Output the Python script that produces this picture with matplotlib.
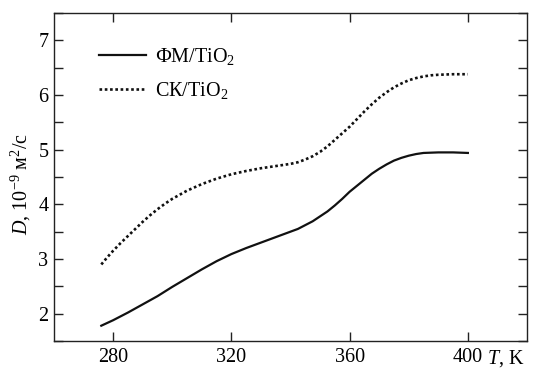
import numpy as np
import matplotlib
matplotlib.use("Agg")
from matplotlib import pyplot as plt

# temperatures, K and D, 10^-9 m^2/s
t_fm = [276, 280, 285, 290, 295, 300, 305, 310, 315, 320, 325, 330, 335,
        340, 342.5, 345, 347.5, 350, 352.5, 355, 357.5, 360, 362.5, 365,
        367.5, 370, 372.5, 375, 377.5, 380, 382.5, 385, 390, 395, 400]
d_fm = [1.78, 1.88, 2.02, 2.17, 2.32, 2.49, 2.65, 2.81, 2.96, 3.09, 3.20,
        3.30, 3.40, 3.50, 3.55, 3.62, 3.69, 3.78, 3.87, 3.98, 4.10, 4.23,
        4.34, 4.45, 4.56, 4.65, 4.73, 4.80, 4.85, 4.89, 4.92, 4.94, 4.95,
        4.95, 4.94]
t_sk = [276, 278, 280, 282.5, 285, 287.5, 290, 292.5, 295, 297.5, 300, 305,
        310, 315, 320, 325, 330, 335, 340, 342.5, 345, 347.5, 350, 352.5,
        355, 357.5, 360, 362.5, 365, 367.5, 370, 372.5, 375, 377.5, 380,
        382.5, 385, 387.5, 390, 395, 400]
d_sk = [2.90, 3.03, 3.15, 3.29, 3.42, 3.55, 3.68, 3.80, 3.91, 4.01, 4.10,
        4.25, 4.37, 4.47, 4.55, 4.61, 4.66, 4.70, 4.74, 4.77, 4.82, 4.88,
        4.96, 5.06, 5.18, 5.30, 5.42, 5.56, 5.70, 5.83, 5.95, 6.05, 6.14,
        6.21, 6.27, 6.31, 6.34, 6.36, 6.37, 6.38, 6.38]
labels = ["ФМ/TiO$_2$", "СК/TiO$_2$"]
x_ticks = [280, 320, 360, 400]
y_ticks = [2, 3, 4, 5, 6, 7]

plt.rcParams["font.family"] = ["Liberation Serif", "DejaVu Serif"]
plt.rcParams["mathtext.fontset"] = "custom"
plt.rcParams["mathtext.rm"] = "Liberation Serif"
plt.rcParams["mathtext.it"] = "Liberation Serif:italic"
plt.rcParams["font.size"] = 14.5

fig = plt.figure(figsize=(5.35, 3.71), dpi=100)
ax = fig.add_axes([54 / 535, 1 - 341 / 371, 473 / 535, 328 / 371])

ax.plot(t_fm, d_fm, color="#111111", lw=1.6, label=labels[0])
ax.plot(t_sk, d_sk, color="#111111", lw=1.9, linestyle=(0, (1, 1.0)),
        label=labels[1])

ax.set_xlim(260, 420)
ax.set_ylim(1.5, 7.5)
ax.set_xticks(x_ticks)
ax.set_yticks(y_ticks)
ax.set_yticks(np.arange(1.5, 7.6, 1.0), minor=True)
ax.tick_params(which="both", direction="in", length=6.5, width=1.0,
               top=True, right=True, color="#222222")
ax.tick_params(axis="x", pad=5)
ax.tick_params(axis="y", pad=4)
for sp in ax.spines.values():
    sp.set_linewidth(1.0)
    sp.set_color("#222222")

ax.legend(frameon=False, loc="upper left", bbox_to_anchor=(0.07, 0.935),
          handlelength=2.3, handletextpad=0.45, labelspacing=0.65,
          borderaxespad=0.2)

fig.text(21 / 535, 1 - 184 / 371, "$D$, 10$^{-9}$ м$^2$/с", rotation=90,
         ha="center", va="center")
fig.text(487 / 535, 1 - 364 / 371, "$T$, K", ha="left", va="baseline")

fig.savefig("out.png", dpi=100)
